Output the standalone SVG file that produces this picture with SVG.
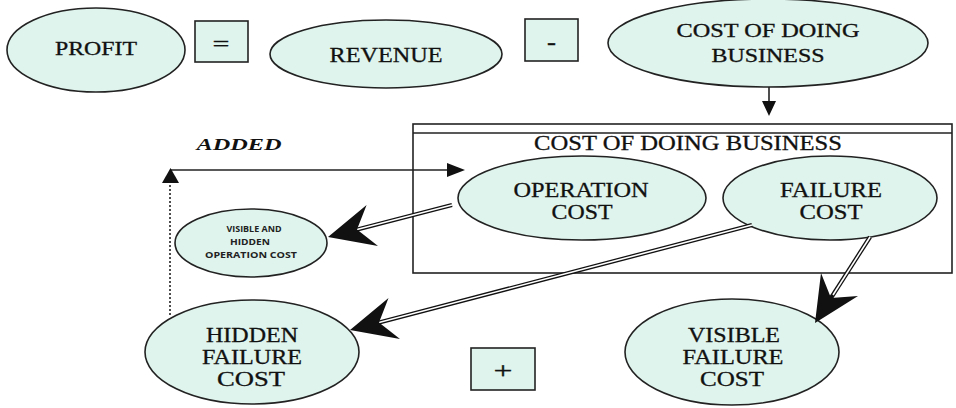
<svg xmlns="http://www.w3.org/2000/svg" width="956" height="408" viewBox="0 0 956 408">
<style>
.n{fill:#dff4ed;stroke:#222;stroke-width:1.6}
.b{fill:#dff4ed;stroke:#222;stroke-width:1.6}
.t{font-family:"Liberation Serif","Times New Roman",serif;fill:#111;stroke:#111;stroke-width:0.3;text-anchor:middle}
.s{font-family:"Open Sans","DejaVu Sans",sans-serif;font-weight:bold;fill:#222;text-anchor:middle;font-size:8px}
.ln{stroke:#222;stroke-width:1.6;fill:none}
.dbl{stroke:#111;stroke-width:4.2;fill:none}
.inn{stroke:#fff;stroke-width:1.6;fill:none}
.hd{fill:#111}
</style>
<rect width="956" height="408" fill="#fff"/>
<g id="profit">
<ellipse class="n" cx="96" cy="50" rx="89" ry="42"/>
<text class="t" x="96" y="55" font-size="19" textLength="82" lengthAdjust="spacingAndGlyphs">PROFIT</text>
</g>
<g id="equals">
<rect class="b" x="195" y="21" width="53" height="41"/>
<text class="t" x="221" y="51" font-size="22" textLength="17" lengthAdjust="spacingAndGlyphs">=</text>
</g>
<g id="revenue">
<ellipse class="n" cx="386" cy="54" rx="116" ry="34"/>
<text class="t" x="386" y="62" font-size="21" textLength="113" lengthAdjust="spacingAndGlyphs">REVENUE</text>
</g>
<g id="minus">
<rect class="b" x="525" y="19" width="53" height="42"/>
<text class="t" x="551.5" y="49" font-size="22" font-weight="bold" textLength="9" lengthAdjust="spacingAndGlyphs">-</text>
</g>
<g id="cost-top">
<ellipse class="n" cx="768" cy="43" rx="160" ry="44"/>
<text class="t" x="768" y="37" font-size="18" textLength="183" lengthAdjust="spacingAndGlyphs">COST OF DOING</text>
<text class="t" x="768" y="62" font-size="18" textLength="113" lengthAdjust="spacingAndGlyphs">BUSINESS</text>
</g>
<g id="cost-box">
<rect x="413" y="124" width="539" height="149" fill="none" stroke="#222" stroke-width="1.6"/>
<line x1="413" y1="133" x2="952" y2="133" stroke="#222" stroke-width="1.6"/>
<text class="t" x="688" y="150" font-size="20" textLength="308" lengthAdjust="spacingAndGlyphs">COST OF DOING BUSINESS</text>
</g>
<g id="operation-cost">
<ellipse class="n" cx="582" cy="198" rx="124" ry="42"/>
<text class="t" x="581" y="197" font-size="21" textLength="135" lengthAdjust="spacingAndGlyphs">OPERATION</text>
<text class="t" x="582" y="219" font-size="21" textLength="61" lengthAdjust="spacingAndGlyphs">COST</text>
</g>
<g id="failure-cost">
<ellipse class="n" cx="830" cy="198" rx="107" ry="42"/>
<text class="t" x="831" y="197" font-size="21" textLength="102" lengthAdjust="spacingAndGlyphs">FAILURE</text>
<text class="t" x="831" y="219" font-size="21" textLength="63" lengthAdjust="spacingAndGlyphs">COST</text>
</g>
<g id="visible-hidden-operation">
<ellipse class="n" cx="251" cy="243" rx="76" ry="34"/>
<text class="s" x="254" y="232" textLength="55" lengthAdjust="spacingAndGlyphs">VISIBLE AND</text>
<text class="s" x="250" y="245" textLength="40" lengthAdjust="spacingAndGlyphs">HIDDEN</text>
<text class="s" x="251" y="258" textLength="92" lengthAdjust="spacingAndGlyphs">OPERATION COST</text>
</g>
<g id="hidden-failure">
<ellipse class="n" cx="252" cy="352" rx="107" ry="52"/>
<text class="t" x="252" y="342" font-size="20" textLength="92" lengthAdjust="spacingAndGlyphs">HIDDEN</text>
<text class="t" x="252" y="364" font-size="20" textLength="100" lengthAdjust="spacingAndGlyphs">FAILURE</text>
<text class="t" x="251" y="386" font-size="20" textLength="68" lengthAdjust="spacingAndGlyphs">COST</text>
</g>
<g id="plus">
<rect class="b" x="471" y="348" width="64" height="42"/>
<text class="t" x="503" y="378" font-size="24" textLength="19" lengthAdjust="spacingAndGlyphs">+</text>
</g>
<g id="visible-failure">
<ellipse class="n" cx="732" cy="352" rx="107" ry="53"/>
<text class="t" x="734" y="342" font-size="20" textLength="92" lengthAdjust="spacingAndGlyphs">VISIBLE</text>
<text class="t" x="733" y="364" font-size="20" textLength="101" lengthAdjust="spacingAndGlyphs">FAILURE</text>
<text class="t" x="732" y="386" font-size="20" textLength="64" lengthAdjust="spacingAndGlyphs">COST</text>
</g>
<g id="added-label">
<text x="239" y="150" font-family="Liberation Serif,Times New Roman,serif" font-size="17" font-weight="bold" font-style="italic" fill="#111" text-anchor="middle" textLength="85" lengthAdjust="spacingAndGlyphs">ADDED</text>
</g>
<g id="connectors">
<line class="ln" x1="769" y1="87" x2="769" y2="103"/>
<polygon class="hd" points="762,101 776,101 769,116"/>
<line class="ln" x1="170" y1="170" x2="450" y2="170"/>
<polygon class="hd" points="447,163 447,177 465,170"/>
<polygon class="hd" points="162,183 179,183 170.5,168"/>
<line x1="170" y1="185" x2="170" y2="315" stroke="#222" stroke-width="1.6" stroke-dasharray="2,2"/>
<line class="dbl" x1="452" y1="205" x2="340" y2="234"/>
<line class="inn" x1="452" y1="205" x2="355" y2="230"/>
<polygon class="hd" points="328,237 366.6,205 357,229.5 378,246"/>
<line class="dbl" x1="752" y1="225" x2="362" y2="327"/>
<line class="inn" x1="752" y1="225" x2="377" y2="323"/>
<polygon class="hd" points="350,330 388.5,298 379,322.4 400,339"/>
<line class="dbl" x1="870" y1="237" x2="822" y2="312"/>
<line class="inn" x1="870" y1="237" x2="833" y2="295"/>
<polygon class="hd" points="815,323 821,273 831,298 858,296"/>
</g>
</svg>
